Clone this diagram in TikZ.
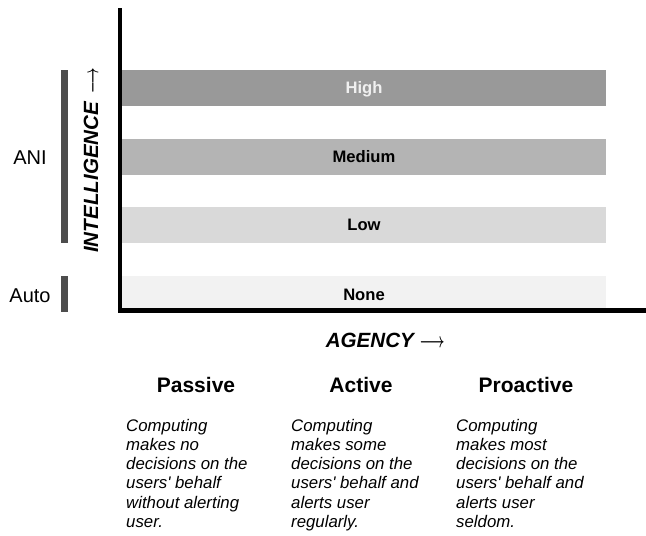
\documentclass[tikz,border=0pt]{standalone}
\usepackage{fontspec}
\usepackage{graphicx}
\setmainfont{Liberation Sans}
% long, slim arrow used after the axis titles
\newcommand{\axisarrow}{\scalebox{0.65}[1]{\boldmath$\longrightarrow$}}
\begin{document}
\begin{tikzpicture}[x=1pt,y=-1pt,
  levelbar/.style={rectangle, inner sep=0pt, minimum width=484pt, minimum height=36pt,
    text height=12pt, text depth=0pt, font=\fontsize{16.6}{20}\selectfont\bfseries},
  sidebar/.style={rectangle, fill=sidegray, inner sep=0pt, minimum width=6.5pt},
  sidelabel/.style={anchor=base, inner sep=0pt, font=\fontsize{20}{24}\selectfont},
  axislabel/.style={inner sep=0pt, font=\fontsize{20.6}{24}\selectfont\bfseries\itshape},
  heading/.style={anchor=base, inner sep=0pt, font=\fontsize{21}{25}\selectfont\bfseries},
  desc/.style={anchor=north west, inner sep=0pt, align=left,
    font=\fontsize{16.8}{19.3}\selectfont\itshape},
  axisline/.style={line width=4.5pt, line join=miter, line cap=butt}]
\definecolor{sidegray}{HTML}{4D4D4D}
\definecolor{highgray}{HTML}{999999}
\definecolor{medgray}{HTML}{B4B4B4}
\definecolor{lowgray}{HTML}{D9D9D9}
\definecolor{nonegray}{HTML}{F2F2F2}
\useasboundingbox (0,0) rectangle (646,536);

% intelligence levels
\node[levelbar, fill=highgray, text=white!94!black] (high) at (364,87.85) {High};
\node[levelbar, fill=medgray] (medium) at (364,156.85) {Medium};
\node[levelbar, fill=lowgray] (low) at (364,224.85) {Low};
\node[levelbar, fill=nonegray] (none) at (364,294) {None};

% axes
\coordinate (ytop) at (120.2,8);
\coordinate (orig) at (120.2,310.5);
\coordinate (xend) at (646,310.5);
\draw[axisline] (ytop) -- (orig) -- (xend);

% ANI / Auto brackets
\node[sidebar, minimum height=173pt] (anibar) at (64.3,156.5) {};
\node[sidebar, minimum height=36pt] (autobar) at (64.3,294) {};
\node[sidelabel] (ani) at (30,164) {ANI};
\node[sidelabel] (auto) at (30,302) {Auto};

% axis titles
\node[axislabel, anchor=base west, rotate=90] (intel) at (98,253) {INTELLIGENCE\hspace{3pt} \axisarrow};
\node[axislabel, anchor=base west] (agency) at (325.6,347.5) {AGENCY \axisarrow};

% agency columns
\node[heading] (passive) at (196,392) {Passive};
\node[heading] (active) at (361,392) {Active};
\node[heading] (proactive) at (526,392) {Proactive};

\node[desc] (dpassive) at (126,418.7) {Computing\\makes no\\decisions on the\\users\textquotesingle{} behalf\\without alerting\\user.};
\node[desc] (dactive) at (291,418.7) {Computing\\makes some\\decisions on the\\users\textquotesingle{} behalf and\\alerts user\\regularly.};
\node[desc] (dproactive) at (456,418.7) {Computing\\makes most\\decisions on the\\users\textquotesingle{} behalf and\\alerts user\\seldom.};
\end{tikzpicture}
\end{document}
